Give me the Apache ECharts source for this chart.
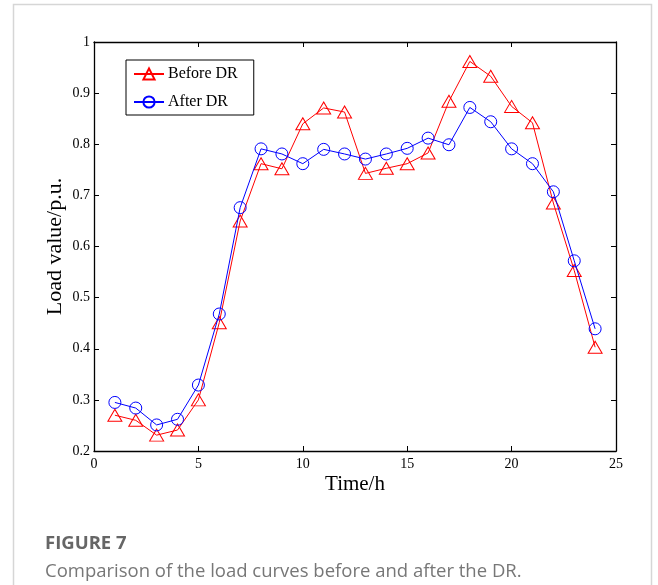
<!DOCTYPE html>
<html>
<head>
<meta charset="utf-8">
<script src="https://cdn.jsdelivr.net/npm/echarts@6/dist/echarts.min.js"></script>
<style>
html,body{margin:0;padding:0;background:#fff;}
#chart{width:658px;height:585px;}
</style>
</head>
<body>
<div id="chart"></div>
<script>
const hours = [1,2,3,4,5,6,7,8,9,10,11,12,13,14,15,16,17,18,19,20,21,22,23,24];
const beforeDR = [0.270,0.260,0.231,0.241,0.300,0.451,0.650,0.762,0.752,0.840,0.871,0.863,0.743,0.753,0.762,0.783,0.884,0.962,0.933,0.874,0.842,0.685,0.553,0.403];
const afterDR  = [0.295,0.284,0.251,0.262,0.329,0.468,0.676,0.791,0.781,0.762,0.790,0.781,0.771,0.781,0.792,0.812,0.799,0.872,0.844,0.791,0.762,0.707,0.572,0.439];
const seriesNames = ['Before DR','After DR'];
const xTitle = 'Time/h';
const yTitle = 'Load value/p.u.';
const captionHead = 'FIGURE 7';
const captionText = 'Comparison of the load curves before and after the DR.';

const serif = '"Liberation Serif","Times New Roman",serif';
const chart = echarts.init(document.getElementById('chart'), null, {renderer:'canvas'});

const axisLine = {show:true, onZero:false, lineStyle:{color:'#000', width:1.3}};
const tickIn = {show:true, inside:true, length:5, lineStyle:{color:'#000', width:1}};

function pair(xs, ys){ return xs.map((x,i)=>[x, ys[i]]); }

chart.setOption({
  animation:false,
  backgroundColor:'#fff',
  grid:{left:94, right:42, top:42, bottom:134, containLabel:false},
  legend:{
    orient:'vertical', left:126, top:60,
    backgroundColor:'#fff',
    borderColor:'#000', borderWidth:1,
    padding:[6,16,5,7],
    itemWidth:30, itemHeight:14, itemGap:12,
    textStyle:{fontFamily:serif, fontSize:16, color:'#000', padding:[0,0,0,-1]},
    data:seriesNames
  },
  xAxis:[{
    type:'value', min:0, max:25, interval:5, position:'bottom',
    axisLine:axisLine, axisTick:tickIn, splitLine:{show:false},
    axisLabel:{fontFamily:serif, fontSize:14, color:'#000', margin:6},
    name:xTitle, nameLocation:'middle', nameGap:23, nameMoveOverlap:false,
    nameTextStyle:{fontFamily:serif, fontSize:21, color:'#000'}
  },{
    type:'value', min:0, max:25, interval:5, position:'top',
    axisLine:axisLine, axisTick:tickIn, splitLine:{show:false},
    axisLabel:{show:false}
  }],
  yAxis:[{
    type:'value', min:0.2, max:1, interval:0.1, position:'left',
    axisLine:axisLine, axisTick:tickIn, splitLine:{show:false},
    axisLabel:{fontFamily:serif, fontSize:14, color:'#000', margin:4,
      formatter:v=>String(Math.round(v*10)/10)},
    name:yTitle, nameLocation:'middle', nameGap:28, nameMoveOverlap:false,
    nameTextStyle:{fontFamily:serif, fontSize:22, color:'#000'}
  },{
    type:'value', min:0.2, max:1, interval:0.1, position:'right',
    axisLine:axisLine, axisTick:tickIn, splitLine:{show:false},
    axisLabel:{show:false}
  }],
  series:[{
    name:seriesNames[0], type:'line', xAxisIndex:0, yAxisIndex:0,
    data:pair(hours, beforeDR),
    symbol:'triangle', symbolSize:[14,12], showAllSymbol:true,
    lineStyle:{color:'#ff0000', width:1},
    itemStyle:{color:'rgba(255,255,255,0)', borderColor:'#ff0000', borderWidth:1},
    z:2
  },{
    name:seriesNames[1], type:'line', xAxisIndex:0, yAxisIndex:0,
    data:pair(hours, afterDR),
    symbol:'circle', symbolSize:12, showAllSymbol:true,
    lineStyle:{color:'#0000ff', width:1},
    itemStyle:{color:'rgba(255,255,255,0)', borderColor:'#0000ff', borderWidth:1},
    z:3
  }],
  graphic:[
    {type:'rect', shape:{x:13.5, y:4.5, width:638, height:620}, style:{fill:'none', stroke:'#d6d6d6', lineWidth:1.5}, silent:true, z:-10},
    {type:'text', left:45, top:534, style:{text:captionHead, font:'bold 18.5px "Open Sans", sans-serif', fill:'#666'}},
    {type:'text', left:45, top:562, style:{text:captionText, font:'18.5px "Open Sans", sans-serif', fill:'#777'}}
  ]
});
</script>
</body>
</html>
